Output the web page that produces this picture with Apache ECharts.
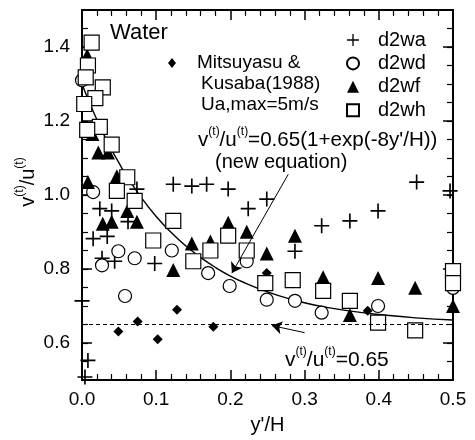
<!DOCTYPE html>
<html>
<head>
<meta charset="utf-8">
<script src="https://cdn.jsdelivr.net/npm/echarts@6/dist/echarts.min.js"></script>
<style>
  html, body { margin: 0; padding: 0; background: #ffffff; }
  #chart { width: 475px; height: 440px; }
</style>
</head>
<body>
<div id="chart"></div>
<script>
// Velocity-fluctuation ratio v(t)/u(t) against dimensionless depth y'/H (water side)

const FONT = '"Liberation Sans", Arial, Helvetica, sans-serif';

// axis ticks
const xMajorTicks = [0.0, 0.1, 0.2, 0.3, 0.4, 0.5];
const yMajorTicks = [0.6, 0.8, 1.0, 1.2, 1.4];
const yMinorTicks = [0.55, 0.6, 0.65, 0.7, 0.75, 0.8, 0.85, 0.9, 0.95, 1.0, 1.05, 1.1,
                     1.15, 1.2, 1.25, 1.3, 1.35, 1.4, 1.45];

// measured runs  [y'/H, v(t)/u(t)]
const d2wa = [
  [0.000, 0.714], [0.008, 0.553], [0.004, 0.508], [0.024, 0.963], [0.040, 0.957],
  [0.062, 0.928], [0.074, 1.016], [0.015, 0.882], [0.034, 0.888], [0.027, 0.829],
  [0.044, 0.821], [0.098, 0.815], [0.123, 1.029], [0.148, 1.024], [0.168, 1.029],
  [0.197, 1.016], [0.224, 0.963], [0.249, 0.989], [0.287, 0.848], [0.323, 0.917],
  [0.361, 0.930], [0.399, 0.957], [0.451, 1.035], [0.496, 1.011]
];
const d2wd = [
  [0.000, 1.310], [0.015, 1.008], [0.027, 0.810], [0.049, 0.848], [0.071, 0.829],
  [0.058, 0.727], [0.121, 0.850], [0.170, 0.789], [0.199, 0.754], [0.222, 0.821],
  [0.249, 0.717], [0.287, 0.714], [0.323, 0.682], [0.399, 0.700], [0.500, 0.749]
];
const d2wf = [
  [0.007, 1.377], [0.014, 1.165], [0.022, 1.115], [0.035, 1.115], [0.047, 1.051],
  [0.008, 1.035], [0.061, 0.957], [0.028, 0.922], [0.040, 0.928], [0.074, 0.928],
  [0.148, 0.869], [0.123, 0.797], [0.173, 0.874], [0.197, 0.925], [0.222, 0.901],
  [0.249, 0.842], [0.287, 0.890], [0.325, 0.778], [0.361, 0.676], [0.399, 0.776],
  [0.449, 0.749], [0.500, 0.700]
];
const d2wh = [
  [0.013, 1.412], [0.008, 1.350], [0.005, 1.318], [0.028, 1.291], [0.018, 1.262],
  [0.003, 1.246], [0.024, 1.184], [0.007, 1.176], [0.040, 1.136], [0.061, 1.048],
  [0.047, 1.011], [0.071, 0.984], [0.123, 0.930], [0.096, 0.877], [0.150, 0.821],
  [0.197, 0.890], [0.173, 0.850], [0.222, 0.850], [0.247, 0.762], [0.284, 0.770],
  [0.325, 0.741], [0.361, 0.714], [0.399, 0.655], [0.449, 0.634], [0.500, 0.794],
  [0.500, 0.762]
];
// Mitsuyasu & Kusaba (1988), Ua,max = 5 m/s
const mitsuyasu = [
  [0.049, 0.631], [0.075, 0.658], [0.102, 0.610], [0.128, 0.690], [0.177, 0.644],
  [0.249, 0.789], [0.385, 0.687]
];

// new equation  v/u = 0.65(1+exp(-8y'/H)), tabulated
const curveX = [0.00, 0.01, 0.02, 0.03, 0.04, 0.05, 0.06, 0.08, 0.10, 0.12, 0.14, 0.16,
                0.18, 0.20, 0.22, 0.25, 0.28, 0.31, 0.34, 0.37, 0.40, 0.45, 0.50];
const curveV = [1.300, 1.250, 1.204, 1.161, 1.122, 1.086, 1.052, 0.993, 0.942, 0.899,
                0.862, 0.831, 0.804, 0.781, 0.762, 0.738, 0.719, 0.704, 0.693, 0.684,
                0.677, 0.668, 0.662];
const constRatio = 0.65;

// annotation arrows [from, to]
const arrowNewEq = [[0.278, 1.056], [0.202, 0.789]];
const arrowConst = [[0.300, 0.628], [0.256, 0.647]];

const PLUS = 'path://M4.45,0H5.55V4.45H10V5.55H5.55V10H4.45V5.55H0V4.45H4.45Z';

const chart = echarts.init(document.getElementById('chart'), null, { renderer: 'canvas' });

const black = '#000000';
const fmt1 = v => v.toFixed(1);

function frameX(position, showLabel) {
  return {
    type: 'value', min: 0, max: 0.5, interval: 0.1, position: position,
    axisLine: { show: true, onZero: false, lineStyle: { color: black, width: 2 } },
    axisTick: { show: true, inside: true, length: 10, lineStyle: { color: black, width: 1.5 } },
    minorTick: { show: true, splitNumber: 5, length: 6, lineStyle: { color: black, width: 1.2 } },
    axisLabel: { show: showLabel, formatter: fmt1, fontSize: 19, fontFamily: FONT, color: black, margin: 10 },
    splitLine: { show: false }, minorSplitLine: { show: false }
  };
}
function frameYMajor(position, showLabel) {
  return {
    type: 'value', min: 0.5, max: 1.5, position: position,
    axisLine: { show: true, onZero: false, lineStyle: { color: black, width: 2 } },
    axisTick: { show: true, inside: true, length: 10, customValues: yMajorTicks,
                lineStyle: { color: black, width: 1.5 } },
    axisLabel: { show: showLabel, customValues: yMajorTicks, formatter: fmt1, fontSize: 19,
                 fontFamily: FONT, color: black, margin: 12 },
    splitLine: { show: false }
  };
}
function frameYMinor(position) {
  return {
    type: 'value', min: 0.5, max: 1.5, position: position,
    axisLine: { show: false, onZero: false },
    axisTick: { show: true, inside: true, length: 6, customValues: yMinorTicks,
                lineStyle: { color: black, width: 1.2 } },
    axisLabel: { show: false },
    splitLine: { show: false }
  };
}

function scatter(name, data, symbol, size, fill, border) {
  return {
    name: name, type: 'scatter', data: data, symbol: symbol, symbolSize: size,
    clip: false, xAxisIndex: 0, yAxisIndex: 0,
    itemStyle: { color: fill, borderColor: black, borderWidth: border, opacity: 1 },
    emphasis: { disabled: true }
  };
}

const curveData = curveX.map((x, i) => [x, curveV[i]]);

function supRich(size) {
  return {
    m: { fontSize: size, fontFamily: FONT, color: black, lineHeight: 28 },
    s: { fontSize: 12, fontFamily: FONT, color: black, lineHeight: 12, verticalAlign: 'top' }
  };
}

const option = {
  backgroundColor: '#ffffff',
  animation: false,
  grid: { left: 82, right: 22, top: 10, bottom: 57 },
  xAxis: [
    Object.assign(frameX('bottom', true), {
      name: "y'/H", nameLocation: 'middle', nameGap: 35,
      nameTextStyle: { fontSize: 20, fontFamily: FONT, color: black }
    }),
    frameX('top', false)
  ],
  yAxis: [
    frameYMajor('left', true),
    frameYMinor('left'),
    frameYMajor('right', false),
    frameYMinor('right')
  ],
  legend: {
    data: ['d2wa', 'd2wd', 'd2wf', 'd2wh'],
    orient: 'vertical', left: 341, top: 25,
    itemWidth: 12, itemHeight: 12, itemGap: 3.4,
    selectedMode: false,
    textStyle: { fontSize: 20, lineHeight: 20, fontFamily: FONT, color: black, padding: [0, 0, 0, 14] }
  },
  series: [
    {
      name: 'curve', type: 'line', data: curveData, smooth: true, showSymbol: false,
      clip: false, lineStyle: { color: black, width: 1.4 }, silent: true, z: 1,
      markLine: {
        silent: true, symbol: ['none', 'arrow'], symbolSize: 10,
        lineStyle: { color: black, width: 1, type: 'solid' },
        label: { show: false },
        data: [
          [{ coord: arrowNewEq[0] }, { coord: arrowNewEq[1] }],
          [{ coord: arrowConst[0] }, { coord: arrowConst[1] }]
        ]
      }
    },
    {
      name: 'const', type: 'line', data: [], silent: true, z: 1,
      markLine: {
        silent: true, symbol: ['none', 'none'],
        lineStyle: { color: black, width: 1, type: [4, 3] },
        label: { show: false },
        data: [[{ coord: [0, constRatio] }, { coord: [0.5, constRatio] }]]
      }
    },
    scatter('Mitsuyasu', mitsuyasu, 'diamond', 10, black, 0),
    scatter('d2wa', d2wa, PLUS, 15, black, 0),
    scatter('d2wd', d2wd, 'circle', 13, '#ffffff', 1.2),
    scatter('d2wf', d2wf, 'triangle', 14, black, 0),
    scatter('d2wh', d2wh, 'rect', 15, '#ffffff', 1.2)
  ],
  graphic: [
    { type: 'text', x: 110, y: 33, style: { text: 'Water', fontSize: 22, fontFamily: FONT, fill: black,
      align: 'left', verticalAlign: 'middle' } },
    { type: 'polygon', shape: { points: [[172, 58], [176, 63], [172, 68], [168, 63]] }, style: { fill: black } },
    { type: 'text', x: 197, y: 63, style: { text: 'Mitsuyasu &', fontSize: 19, fontFamily: FONT, fill: black,
      align: 'left', verticalAlign: 'middle' } },
    { type: 'text', x: 201, y: 84, style: { text: 'Kusaba(1988)', fontSize: 19, fontFamily: FONT, fill: black,
      align: 'left', verticalAlign: 'middle' } },
    { type: 'text', x: 201, y: 105, style: { text: 'Ua,max=5m/s', fontSize: 19, fontFamily: FONT, fill: black,
      align: 'left', verticalAlign: 'middle' } },
    { type: 'text', x: 198, y: 140, style: {
      text: "{m|v}{s|(t)}{m|/u}{s|(t)}{m|=0.65(1+exp(-8y'/H))}",
      align: 'left', verticalAlign: 'middle', rich: supRich(20.6) } },
    { type: 'text', x: 215, y: 162, style: { text: '(new equation)', fontSize: 20, fontFamily: FONT, fill: black,
      align: 'left', verticalAlign: 'middle' } },
    { type: 'text', x: 285, y: 360, style: {
      text: '{m|v}{s|(t)}{m|/u}{s|(t)}{m|=0.65}',
      align: 'left', verticalAlign: 'middle', rich: supRich(21) } },
    { type: 'text', x: 28, y: 182, rotation: Math.PI / 2, style: {
      text: '{m|v}{s|(t)}{m|/u}{s|(t)}',
      align: 'center', verticalAlign: 'middle', rich: supRich(20) } }
  ]
};

chart.setOption(option);
</script>
</body>
</html>
